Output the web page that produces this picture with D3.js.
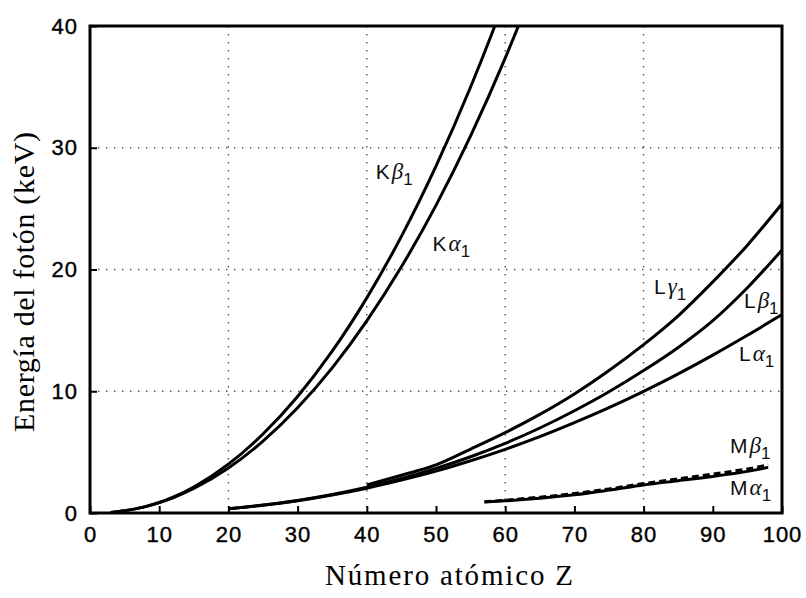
<!DOCTYPE html>
<html>
<head>
<meta charset="utf-8">
<script src="https://cdn.jsdelivr.net/npm/d3@7"></script>
<style>
  body { margin: 0; background: #fff; }
  svg { display: block; }
</style>
</head>
<body>
<div id="chart"></div>
<script>
// values (Z, keV)
const kAlpha1 = [[3, 0.05], [5, 0.18], [8, 0.52], [10, 0.85], [12, 1.25], [15, 2.01], [20, 3.69], [25, 5.9], [30, 8.64], [35, 11.92], [40, 15.78], [45, 20.22], [50, 25.27], [55, 30.97], [60, 37.36], [62, 40.12]]
const kBeta1 = [[3, 0.05], [5, 0.18], [8, 0.52], [10, 0.86], [12, 1.3], [15, 2.14], [20, 4.01], [25, 6.49], [30, 9.57], [35, 13.29], [40, 17.67], [45, 22.72], [50, 28.49], [55, 34.99], [58, 39.26], [60, 42.27]]
const lAlpha1 = [[20, 0.34], [25, 0.64], [30, 1.01], [35, 1.48], [40, 2.04], [45, 2.7], [50, 3.44], [55, 4.29], [60, 5.23], [65, 6.27], [70, 7.42], [75, 8.65], [80, 9.99], [85, 11.43], [90, 12.97], [95, 14.6], [100, 16.3]]
const lBeta1 = [[20, 0.35], [25, 0.65], [30, 1.03], [35, 1.52], [40, 2.12], [45, 2.83], [50, 3.66], [55, 4.62], [60, 5.72], [65, 6.98], [70, 8.4], [75, 9.96], [80, 11.7], [85, 13.6], [90, 15.8], [95, 18.5], [100, 21.6]]
const lGamma1 = [[40, 2.3], [45, 3.1], [50, 3.95], [55, 5.25], [60, 6.6], [65, 8.1], [70, 9.78], [75, 11.7], [80, 13.83], [85, 16.2], [90, 18.98], [95, 22.0], [100, 25.4]]
const mAlpha1 = [[57, 0.9], [60, 1.0], [65, 1.22], [70, 1.5], [75, 1.88], [80, 2.3], [85, 2.65], [90, 3.0], [95, 3.42], [98, 3.75]]
const mBeta1 = [[57, 0.93], [60, 1.05], [65, 1.3], [70, 1.6], [75, 1.98], [80, 2.42], [85, 2.8], [90, 3.2], [95, 3.62], [98, 3.95]]

const xTicks = [0, 10, 20, 30, 40, 50, 60, 70, 80, 90, 100]
const yTicks = [0, 10, 20, 30, 40]
const xGrid = [20, 40, 60, 80]
const yGrid = [10, 20, 30]

const labels = [
    { base: "K", greek: "β", Z: 41.3, E: 27.4 },
    { base: "K", greek: "α", Z: 49.5, E: 21.5 },
    { base: "L", greek: "γ", Z: 81.5, E: 18.0 },
    { base: "L", greek: "β", Z: 94.5, E: 16.8 },
    { base: "L", greek: "α", Z: 93.8, E: 12.5 },
    { base: "M", greek: "β", Z: 92.5, E: 4.9 },
    { base: "M", greek: "α", Z: 92.5, E: 1.5 }
]

const W = 806, H = 598
const mLeft = 90, mRight = 782, mTop = 26, mBottom = 513

const svg = d3.select('#chart')
    .append('svg')
    .attr('width', W)
    .attr('height', H)

const x = d3.scaleLinear().domain([0, 100]).range([mLeft, mRight])
const y = d3.scaleLinear().domain([0, 40]).range([mBottom, mTop])

svg.append('clipPath')
    .attr('id', 'clip')
    .append('rect')
    .attr('x', mLeft).attr('y', mTop)
    .attr('width', mRight - mLeft).attr('height', mBottom - mTop)

// dotted grid
svg.append('g')
    .selectAll('line')
    .data(xGrid)
    .enter()
    .append('line')
    .attr('x1', d => x(d)).attr('x2', d => x(d))
    .attr('y1', mTop).attr('y2', mBottom)
    .attr('stroke', '#555')
    .attr('stroke-width', 1.4)
    .attr('stroke-dasharray', '1.4,6.6')

svg.append('g')
    .selectAll('line')
    .data(yGrid)
    .enter()
    .append('line')
    .attr('x1', mLeft).attr('x2', mRight)
    .attr('y1', d => y(d)).attr('y2', d => y(d))
    .attr('stroke', '#555')
    .attr('stroke-width', 1.4)
    .attr('stroke-dasharray', '1.4,6.6')

// axes with inward ticks
const xAxis = d3.axisBottom(x).tickValues(xTicks).tickSizeInner(-7).tickSizeOuter(0).tickPadding(14)
const yAxis = d3.axisLeft(y).tickValues(yTicks).tickSizeInner(-7).tickSizeOuter(0).tickPadding(12)

const gx = svg.append('g')
    .attr('transform', 'translate(0,' + mBottom + ')')
    .call(xAxis)
const gy = svg.append('g')
    .attr('transform', 'translate(' + mLeft + ',0)')
    .call(yAxis)

for (const g of [gx, gy]) {
    g.select('.domain').remove()
    g.selectAll('line').attr('stroke', '#000').attr('stroke-width', 2)
    g.selectAll('text')
        .attr('fill', '#000')
        .attr('stroke', '#000')
        .attr('stroke-width', 0.4)
        .style('font-family', '"Liberation Sans", Arial, sans-serif')
        .style('font-size', '22px')
        .style('letter-spacing', '1px')
}
gx.selectAll('text').attr('dy', '0.68em')

svg.append('rect')
    .attr('x', mLeft).attr('y', mTop)
    .attr('width', mRight - mLeft).attr('height', mBottom - mTop)
    .attr('fill', 'none')
    .attr('stroke', '#000')
    .attr('stroke-width', 3)

// curves
const line = d3.line()
    .x(d => x(d[0]))
    .y(d => y(d[1]))
    .curve(d3.curveMonotoneX)

const plot = svg.append('g').attr('clip-path', 'url(#clip)')

const series = [kAlpha1, kBeta1, lAlpha1, lBeta1, lGamma1, mAlpha1]
plot.selectAll('path.solid')
    .data(series)
    .enter()
    .append('path')
    .attr('class', 'solid')
    .attr('d', line)
    .attr('fill', 'none')
    .attr('stroke', '#000')
    .attr('stroke-width', 3)

plot.append('path')
    .attr('d', line(mBeta1))
    .attr('fill', 'none')
    .attr('stroke', '#000')
    .attr('stroke-width', 3)
    .attr('stroke-dasharray', '7,4')

// curve labels
const lab = svg.append('g')
    .selectAll('text')
    .data(labels)
    .enter()
    .append('text')
    .attr('x', d => x(d.Z))
    .attr('y', d => y(d.E))
    .attr('fill', '#111')
    .style('font-family', '"Liberation Sans", Arial, sans-serif')
    .style('font-size', '21px')

lab.append('tspan').text(d => d.base)
lab.append('tspan')
    .attr('dx', 2)
    .style('font-family', '"Liberation Serif", serif')
    .style('font-style', 'italic')
    .style('font-size', '23px')
    .text(d => d.greek)
lab.append('tspan')
    .attr('dy', 6)
    .style('font-size', '17px')
    .text('1')

// axis titles
svg.append('text')
    .attr('x', 449)
    .attr('y', 585)
    .attr('text-anchor', 'middle')
    .attr('textLength', 248)
    .attr('lengthAdjust', 'spacing')
    .style('font-family', '"Liberation Serif", "Times New Roman", serif')
    .style('font-size', '29px')
    .text('Número atómico Z')

svg.append('text')
    .attr('transform', 'translate(34,282) rotate(-90)')
    .attr('text-anchor', 'middle')
    .attr('textLength', 300)
    .attr('lengthAdjust', 'spacing')
    .style('font-family', '"Liberation Serif", "Times New Roman", serif')
    .style('font-size', '30px')
    .text('Energía del fotón (keV)')
</script>
</body>
</html>
